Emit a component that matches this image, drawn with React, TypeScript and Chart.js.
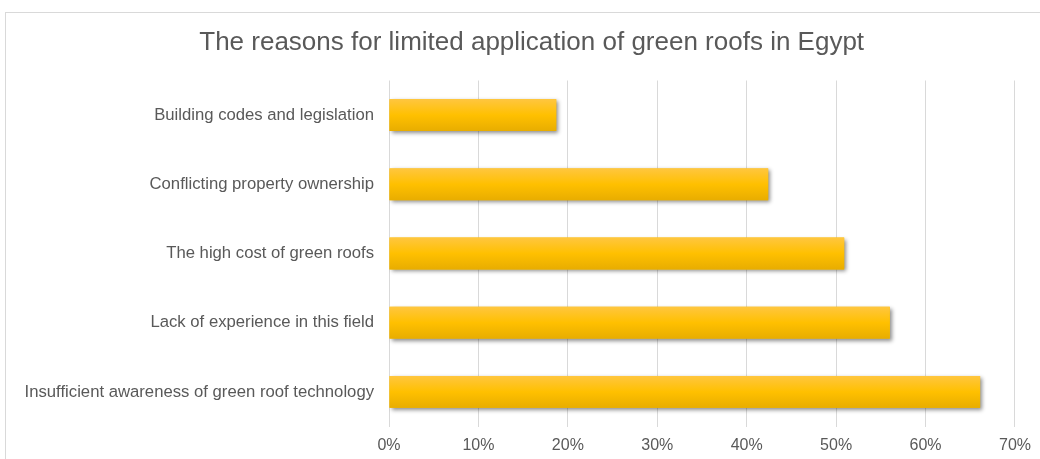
import React, { useEffect, useRef } from "react";
import { Chart, registerables } from "chart.js";

Chart.register(...registerables);

const categories = [
  "Building codes and legislation",
  "Conflicting property ownership",
  "The high cost of green roofs",
  "Lack of experience in this field",
  "Insufficient awareness of green roof technology",
];
const values = [18.7, 42.4, 50.9, 56.0, 66.1];
const tickMax = 70;
const tickStep = 10;
const titleText = "The reasons for limited application of green roofs in Egypt";

const TEXT = "#595959";
const GRID = "#d9d9d9";
const FONT = "'Liberation Sans', Arial, sans-serif";

const framePlugin = {
  id: "frame",
  beforeDraw(chart: any) {
    const ctx = chart.ctx;
    ctx.save();
    ctx.fillStyle = "#ffffff";
    ctx.fillRect(0, 0, chart.width, chart.height);
    ctx.strokeStyle = GRID;
    ctx.lineWidth = 1;
    ctx.strokeRect(5.5, 12.5, chart.width + 20, chart.height + 20);
    ctx.restore();
  },
};

const barStylePlugin = {
  id: "barStyle",
  beforeDatasetDraw(chart: any) {
    const ctx = chart.ctx;
    ctx.save();
    ctx.shadowColor = "rgba(0,0,0,0.45)";
    ctx.shadowOffsetX = 2;
    ctx.shadowOffsetY = 2;
    ctx.shadowBlur = 4;
  },
  afterDatasetDraw(chart: any, args: any) {
    const ctx = chart.ctx;
    ctx.restore();
    const meta = args.meta;
    meta.data.forEach((bar: any) => {
      const p = bar.getProps(["x", "y", "base", "height"], true);
      const top = p.y - p.height / 2;
      const left = Math.min(p.base, p.x);
      const w = Math.abs(p.x - p.base);
      const g = ctx.createLinearGradient(0, top, 0, top + p.height);
      g.addColorStop(0, "#ffc63f");
      g.addColorStop(0.5, "#ffc000");
      g.addColorStop(1, "#e8ad00");
      ctx.save();
      ctx.fillStyle = g;
      ctx.fillRect(left, top, w, p.height);
      ctx.restore();
    });
  },
};

export default function App() {
  const ref = useRef<HTMLCanvasElement | null>(null);
  useEffect(() => {
    document.body.style.margin = "0";
    const chart = new Chart(ref.current as HTMLCanvasElement, {
      type: "bar",
      data: {
        labels: categories,
        datasets: [
          {
            data: values,
            backgroundColor: "#ffc000",
            borderWidth: 0,
            categoryPercentage: 1,
            barPercentage: 0.46,
          },
        ],
      },
      plugins: [framePlugin, barStylePlugin],
      options: {
        indexAxis: "y",
        responsive: false,
        animation: false,
        maintainAspectRatio: false,
        layout: { padding: { left: 5, right: 25, top: 0, bottom: 0 } },
        plugins: {
          legend: { display: false },
          tooltip: { enabled: false },
          title: {
            display: true,
            text: "      " + titleText,
            color: TEXT,
            font: { family: FONT, size: 26, weight: "normal" },
            padding: { top: 27, bottom: 22.3 },
          },
        },
        scales: {
          x: {
            min: 0,
            max: tickMax,
            ticks: {
              stepSize: tickStep,
              color: TEXT,
              font: { family: FONT, size: 16 },
              padding: 9,
              callback: (v: any) => v + "%",
            },
            grid: { color: GRID, drawTicks: false },
            border: { display: false },
            afterFit: (scale: any) => {
              scale.height = 32.5;
            },
          },
          y: {
            ticks: {
              color: TEXT,
              font: { family: FONT, size: 16.7 },
              padding: 15,
            },
            grid: { display: false, drawTicks: false },
            border: { display: false },
            afterFit: (scale: any) => {
              scale.width = 384;
            },
          },
        },
      },
    });
    return () => chart.destroy();
  }, []);
  return (
    <div style={{ position: "absolute", left: 0, top: 0, width: 1040, height: 459 }}>
      <canvas ref={ref} width={1040} height={459} />
    </div>
  );
}
